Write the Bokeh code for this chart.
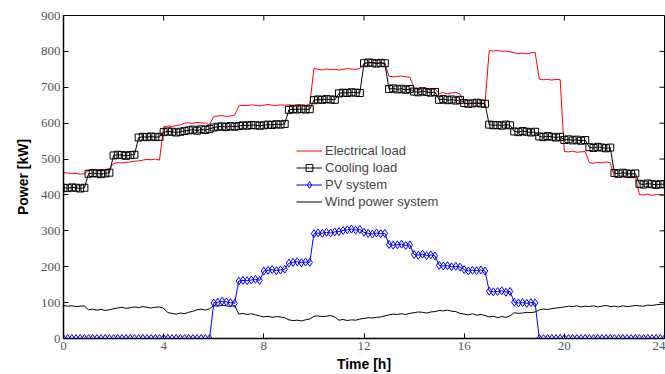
import math
from bokeh.plotting import figure
from bokeh.models import Legend, LegendItem, FixedTicker
from bokeh.embed import file_html
from bokeh.resources import INLINE

# time in hours, 10-minute resolution
t = [i / 6 for i in range(145)]

electrical_load = [
    462, 461, 460, 460, 458, 459,
    468, 470, 469, 471, 470, 472,
    488, 490, 489, 491, 492, 494,
    495, 497, 499, 498, 500, 497,
    590, 592, 591, 593, 595, 600,
    601, 600, 602, 601, 600, 596,
    619, 620, 621, 619, 620, 622,
    648, 650, 649, 651, 650, 648,
    650, 652, 650, 649, 651, 650,
    651, 650, 652, 651, 650, 652,
    752, 750, 748, 751, 749, 750,
    748, 750, 752, 751, 750, 752,
    766, 768, 769, 767, 768, 766,
    731, 729, 730, 731, 729, 728,
    697, 695, 696, 694, 696, 695,
    683, 685, 682, 684, 686, 681,
    656, 655, 657, 654, 656, 655,
    802, 801, 803, 800, 801, 799,
    796, 794, 795, 793, 796, 797,
    723, 721, 722, 720, 722, 721,
    521, 520, 522, 519, 520, 521,
    490, 488, 491, 489, 492, 490,
    450, 449, 451, 448, 450, 452,
    401, 400, 402, 399, 401, 400,
    400,
]

cooling_load = [
    420, 419, 421, 420, 418, 420,
    459, 461, 460, 458, 460, 462,
    510, 512, 511, 509, 511, 512,
    560, 562, 561, 563, 561, 562,
    575, 577, 576, 574, 576, 578,
    580, 582, 579, 583, 581, 584,
    588, 590, 591, 589, 592, 590,
    592, 594, 593, 595, 594, 593,
    594, 596, 595, 597, 596, 598,
    637, 639, 638, 640, 638, 639,
    664, 666, 665, 667, 666, 665,
    683, 685, 684, 686, 685, 684,
    767, 769, 768, 766, 768, 767,
    695, 697, 694, 696, 693, 695,
    688, 686, 689, 687, 685, 687,
    665, 667, 664, 666, 663, 665,
    656, 654, 655, 657, 655, 654,
    596, 594, 595, 593, 596, 594,
    577, 575, 578, 576, 574, 576,
    563, 561, 564, 562, 560, 562,
    553, 555, 552, 554, 551, 553,
    533, 531, 534, 532, 530, 532,
    461, 459, 462, 460, 458, 460,
    431, 429, 432, 430, 428, 430,
    430,
]

pv_system = [
    0, 0, 0, 0, 0, 0,
    0, 0, 0, 0, 0, 0,
    0, 0, 0, 0, 0, 0,
    0, 0, 0, 0, 0, 0,
    0, 0, 0, 0, 0, 0,
    0, 0, 0, 0, 0, 0,
    99, 101, 104, 102, 100, 98,
    160, 162, 161, 163, 165, 162,
    188, 190, 192, 189, 191, 193,
    210, 212, 214, 211, 213, 212,
    292, 294, 293, 296, 294, 297,
    298, 301, 303, 305, 302, 304,
    296, 293, 291, 294, 292, 293,
    262, 260, 261, 263, 259, 261,
    234, 232, 235, 231, 233, 230,
    204, 202, 203, 200, 201, 199,
    192, 188, 190, 189, 191, 188,
    132, 130, 131, 133, 129, 131,
    101, 99, 100, 98, 100, 99,
    0, 0, 0, 0, 0, 0,
    0, 0, 0, 0, 0, 0,
    0, 0, 0, 0, 0, 0,
    0, 0, 0, 0, 0, 0,
    0, 0, 0, 0, 0, 0,
    0,
]

wind_power = [
    92, 90, 91, 89, 90, 91,
    80, 82, 79, 81, 78, 80,
    83, 85, 87, 84, 86, 88,
    86, 89, 87, 85, 87, 88,
    84, 72, 70, 68, 71, 69,
    73, 76, 80, 82, 79, 83,
    92, 90, 93, 91, 89, 92,
    68, 70, 67, 69, 66, 63,
    60, 62, 59, 61, 60, 58,
    52, 50, 51, 49, 52, 54,
    62, 63, 61, 62, 64, 60,
    51, 53, 50, 52, 51, 54,
    56, 58, 57, 59, 60, 63,
    66, 68, 67, 69, 67, 70,
    72, 74, 73, 71, 74, 75,
    78, 77, 79, 76, 75, 70,
    68, 66, 69, 65, 67, 64,
    60, 62, 58, 61, 59, 63,
    72, 70, 71, 73, 72, 74,
    80, 82, 81, 83, 85, 86,
    88, 90, 89, 91, 88, 90,
    89, 91, 88, 90, 92, 89,
    90, 88, 91, 89, 90, 92,
    91, 90, 93, 92, 94, 95,
    96,
]

x_ticks = [0, 4, 8, 12, 16, 20, 24]
y_ticks = [0, 100, 200, 300, 400, 500, 600, 700, 800, 900]
x_max = 24
y_max = 900

p = figure(width=665, height=374, x_range=(0, x_max), y_range=(0, y_max),
           output_backend="svg", toolbar_location=None,
           min_border_left=63, min_border_right=1, min_border_top=15,
           min_border_bottom=35)
p.background_fill_color = "white"
p.border_fill_color = "white"
p.outline_line_color = "black"
p.outline_line_width = 1
p.xgrid.visible = False
p.ygrid.visible = False

r_wind = p.line(t, wind_power, line_color="black", line_width=1)
r_el = p.line(t, electrical_load, line_color="#ff0000", line_width=1)
r_cl = p.line(t, cooling_load, line_color="black", line_width=1)
r_cs = p.scatter(t, cooling_load, marker="square", size=7, line_color="black",
                 fill_alpha=0, line_width=1)
r_pl = p.line(t, pv_system, line_color="#0000ff", line_width=1)
r_ps = p.scatter(t, pv_system, marker="diamond", size=8, line_color="#0000ff",
                 fill_alpha=0, line_width=1)

# inward ticks on the top and right edges of the box
p.ray(x=x_ticks, y=[y_max] * len(x_ticks), length=5, length_units="screen",
      angle=-math.pi / 2, line_color="black", line_width=1)
p.ray(x=[x_max] * len(y_ticks), y=y_ticks, length=5, length_units="screen",
      angle=math.pi, line_color="black", line_width=1)

for ax, ticks in ((p.xaxis[0], x_ticks), (p.yaxis[0], y_ticks)):
    ax.ticker = FixedTicker(ticks=ticks)
    ax.major_tick_in = 5
    ax.major_tick_out = 0
    ax.minor_tick_line_color = None
    ax.axis_line_color = "black"
    ax.axis_line_width = 1.5
    ax.major_label_text_font = "Liberation Serif"
    ax.major_label_text_font_size = "13px"
    ax.major_label_text_color = "#555555"
    ax.major_label_standoff = 3
    ax.axis_label_text_font = "Liberation Sans"
    ax.axis_label_text_font_style = "bold"
    ax.axis_label_text_font_size = "14px"
    ax.axis_label_text_color = "black"

p.xaxis[0].axis_label = "Time [h]"
p.xaxis[0].axis_label_standoff = 3
p.yaxis[0].axis_label = "Power [kW]"
p.yaxis[0].axis_label_standoff = 7

legend = Legend(items=[
    LegendItem(label="Electrical load", renderers=[r_el]),
    LegendItem(label="Cooling load", renderers=[r_cl, r_cs]),
    LegendItem(label="PV system", renderers=[r_pl, r_ps]),
    LegendItem(label="Wind power system", renderers=[r_wind]),
], location=(233, 128))
legend.label_text_font = "Liberation Sans"
legend.label_text_font_size = "13px"
legend.label_height = 17
legend.glyph_height = 17
legend.glyph_width = 26
legend.label_standoff = 3
legend.spacing = 0
legend.padding = 0
legend.margin = 0
legend.border_line_alpha = 0
legend.background_fill_alpha = 0
p.add_layout(legend)

open("out.html", "w").write(file_html(p, INLINE))
